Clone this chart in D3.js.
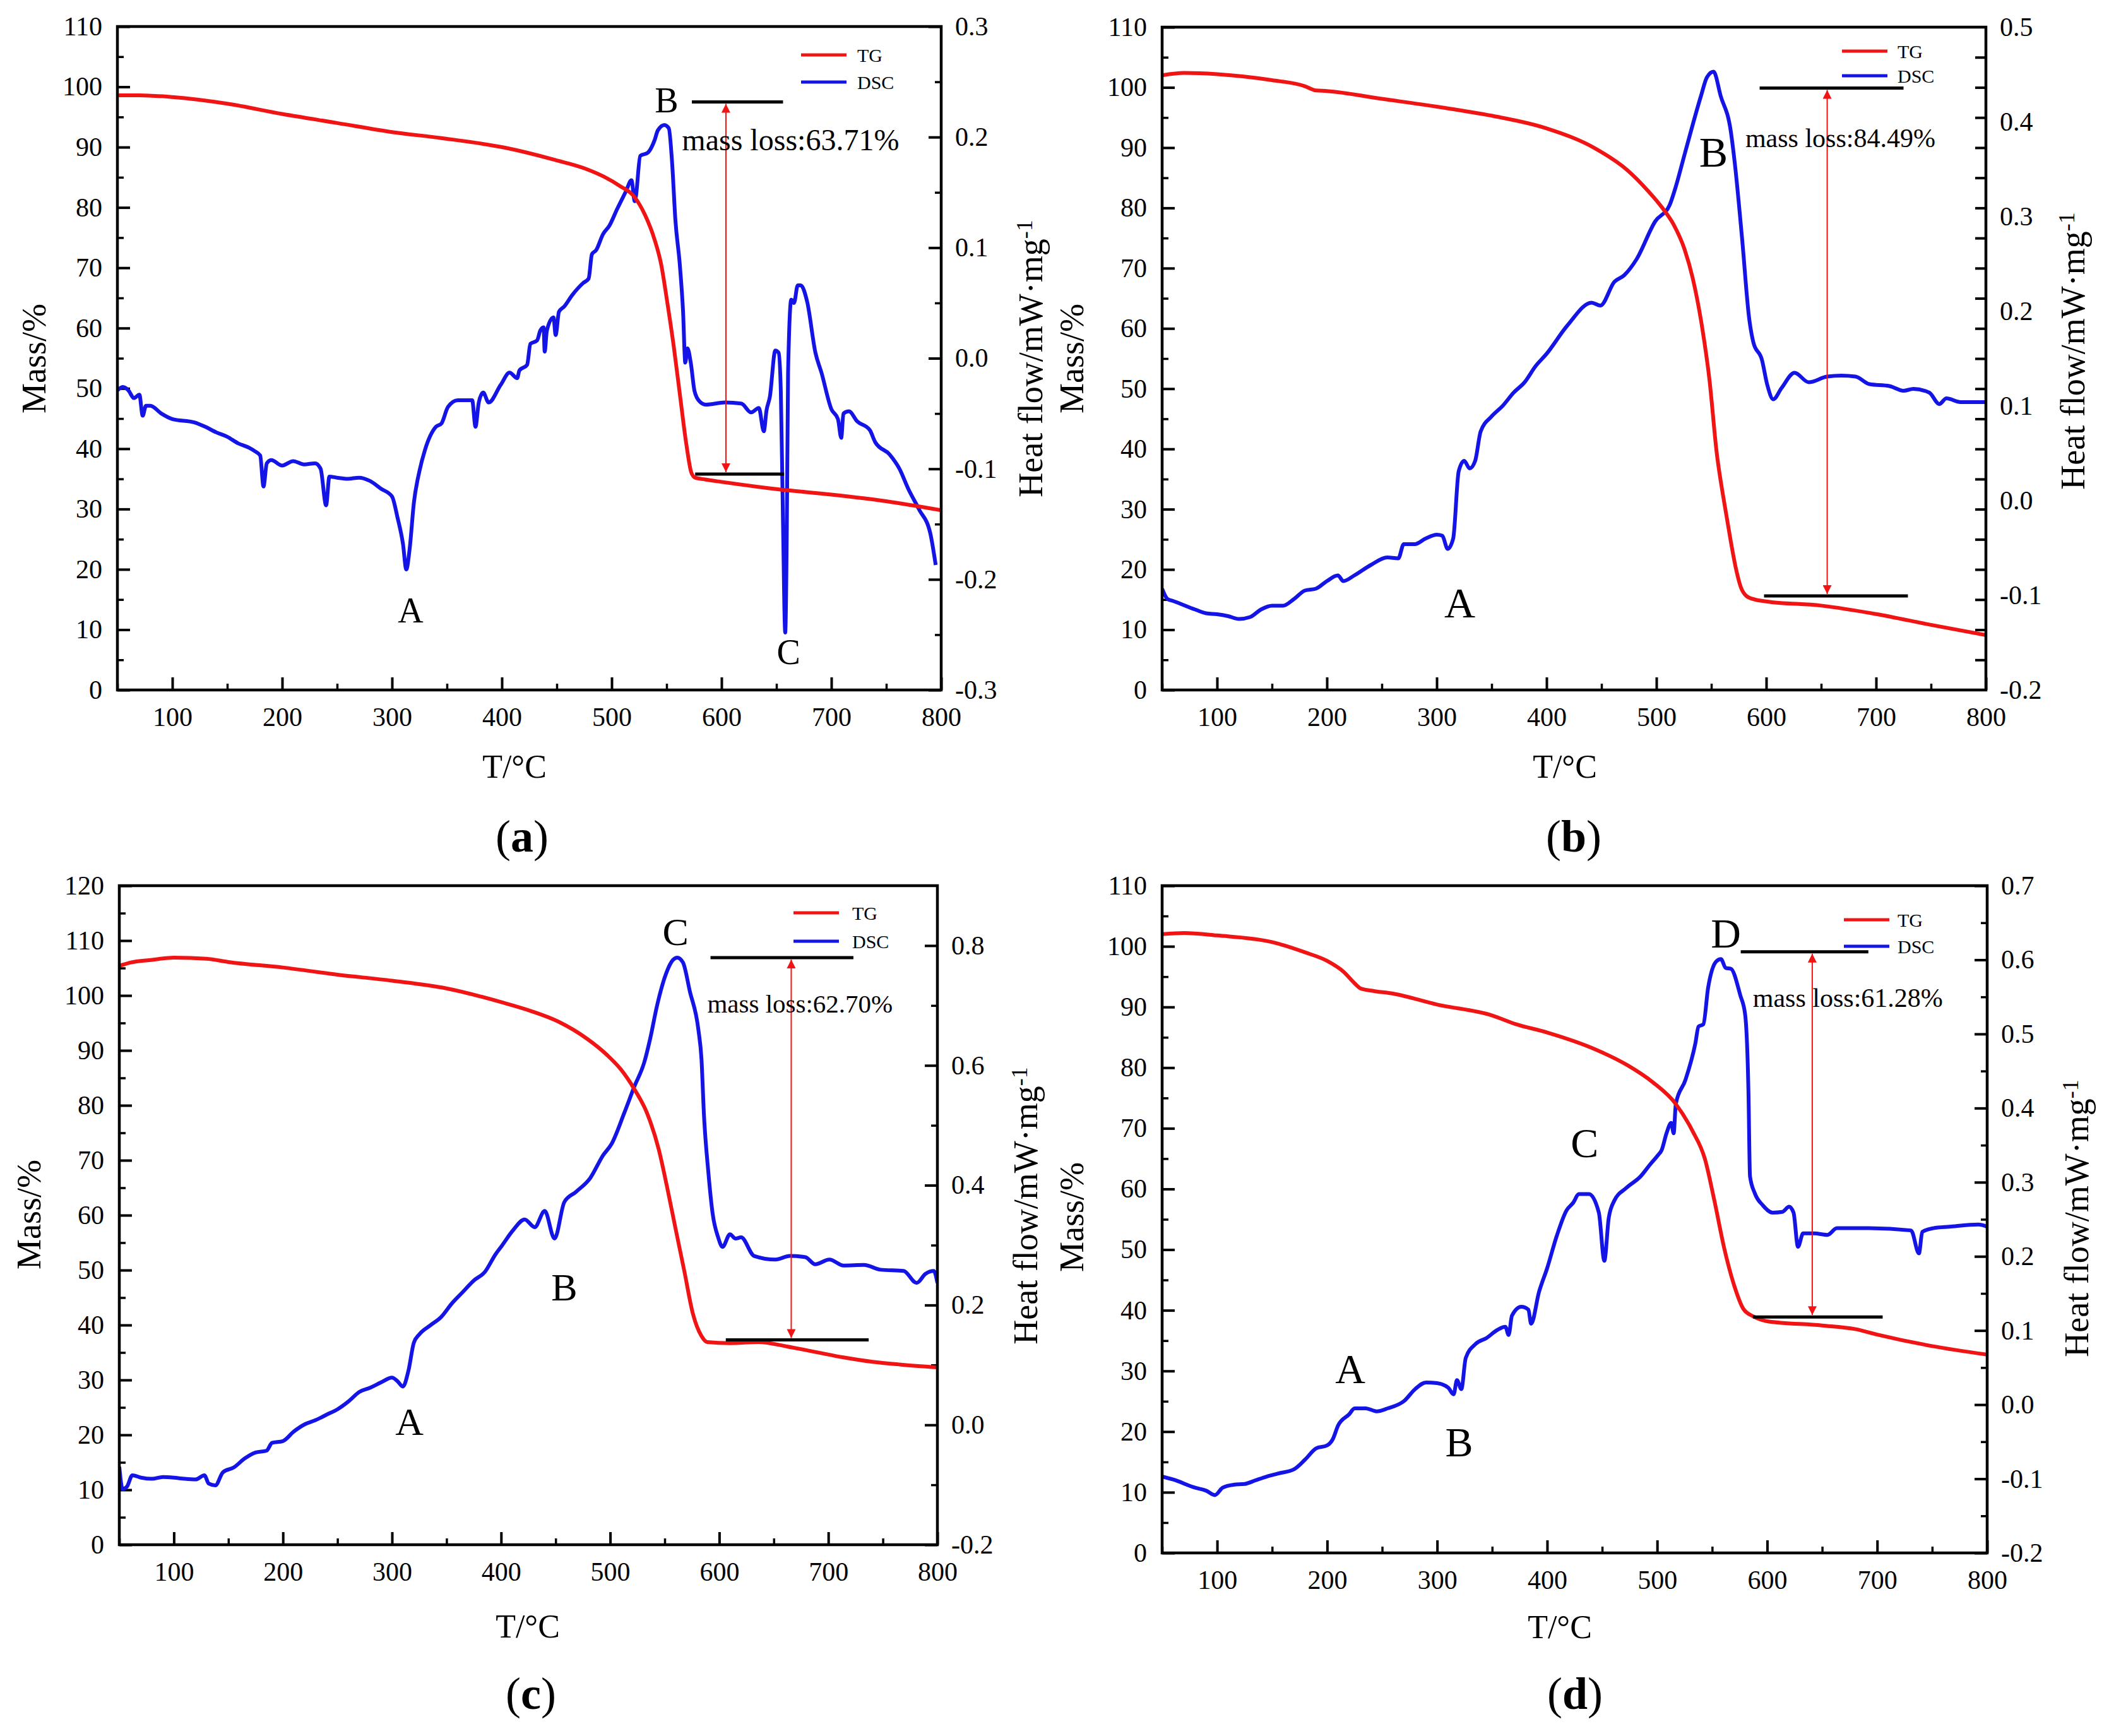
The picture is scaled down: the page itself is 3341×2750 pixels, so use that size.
<!DOCTYPE html>
<html>
<head>
<meta charset="utf-8">
<script src="https://cdn.jsdelivr.net/npm/d3@7"></script>
<style>
  body { margin: 0; background: #fff; }
  text { font-family: "Liberation Serif", "Times New Roman", serif; }
</style>
</head>
<body>
<svg id="fig"></svg>
<script>
// ---- data ----
var tempDomain = [50, 800];
var tempTicks = [100, 200, 300, 400, 500, 600, 700, 800];
var tempMinor = [50, 150, 250, 350, 450, 550, 650, 750];

var tgA = [[50,98.6],[70,98.6],[100,98.3],[150,97.2],[200,95.5],[250,94],[300,92.5],[345,91.5],[403,89.9],[448,87.9],[478,86.3],[493,85.1],[508,83.5],[520,81.9],[530.5,78.7],[539,74.7],[545,70.6],[550.6,64.3],[556.4,57.1],[562.3,48.7],[568,40.7],[572.6,36],[576,35.2],[585,34.9],[600,34.5],[650,33.3],[700,32.4],[750,31.3],[800,29.8]];
var dscA = [[50,-0.029],[55,-0.026],[60,-0.029],[65,-0.036],[70,-0.033],[73,-0.052],[76,-0.043],[80,-0.043],[90,-0.050],[100,-0.055],[120,-0.058],[130,-0.062],[140,-0.067],[150,-0.071],[160,-0.077],[170,-0.081],[175,-0.084],[180,-0.088],[183,-0.116],[186,-0.095],[190,-0.092],[200,-0.097],[210,-0.093],[220,-0.096],[230,-0.095],[235,-0.100],[240,-0.133],[243,-0.107],[250,-0.108],[260,-0.109],[270,-0.108],[280,-0.111],[290,-0.118],[300,-0.125],[305,-0.144],[310,-0.168],[313,-0.191],[316,-0.173],[320,-0.130],[325,-0.102],[330,-0.083],[340,-0.062],[345,-0.059],[351,-0.044],[360,-0.038],[373,-0.038],[376,-0.062],[379,-0.040],[383,-0.031],[388,-0.040],[399,-0.024],[407,-0.013],[414,-0.018],[416,-0.011],[423,-0.006],[426,0.013],[432,0.016],[435,0.025],[438,0.028],[439,0.006],[441,0.025],[447,0.037],[449,0.021],[452,0.042],[457,0.047],[464,0.057],[474,0.068],[479,0.072],[482,0.094],[486,0.098],[492,0.112],[498,0.120],[505,0.135],[513,0.151],[518,0.161],[521,0.142],[522,0.146],[526,0.183],[533,0.186],[539,0.197],[542,0.206],[548,0.211],[552,0.208],[555,0.177],[558,0.125],[562,0.085],[565,0.042],[567,-0.004],[569,0.009],[572,-0.004],[575.5,-0.030],[580,-0.039],[586,-0.042],[603,-0.040],[618,-0.041],[627,-0.049],[634,-0.045],[638.5,-0.066],[641,-0.047],[644,-0.035],[649,0.007],[652,0.005],[654,-0.030],[656,-0.150],[658,-0.248],[659.5,-0.150],[660.6,-0.013],[663.5,0.053],[666,0.050],[669.4,0.066],[672,0.066],[678,0.051],[685.5,0.005],[691,-0.013],[700,-0.046],[706,-0.055],[709,-0.072],[711,-0.050],[716,-0.048],[723.5,-0.057],[735,-0.065],[740,-0.076],[753,-0.087],[762,-0.100],[770,-0.118],[780,-0.137],[790,-0.158],[795,-0.187]];

var tgB = [[50,102],[70,102.4],[100,102.2],[150,101.2],[180,100.2],[190,99.5],[200,99.4],[250,98.1],[300,96.8],[350,95.3],[400,93.2],[444,89.9],[474,86.2],[492,82.9],[505,80.1],[515.5,77.3],[525.7,73.1],[533,68.4],[541.8,60],[548.3,51.5],[554.7,39.7],[562.5,30.3],[567.6,24.8],[572,20.5],[577,17],[582,15.6],[590,15],[600,14.7],[650,14],[700,12.6],[750,10.8],[800,9.1]];
var dscB = [[50,-0.093],[55,-0.104],[60,-0.106],[80,-0.115],[90,-0.119],[100,-0.120],[110,-0.122],[120,-0.125],[130,-0.123],[140,-0.115],[150,-0.111],[160,-0.111],[170,-0.104],[180,-0.095],[190,-0.093],[200,-0.085],[210,-0.079],[215,-0.085],[225,-0.079],[240,-0.068],[255,-0.060],[265,-0.061],[270,-0.046],[280,-0.046],[290,-0.040],[300,-0.036],[305,-0.037],[310,-0.051],[315,-0.040],[320,0.031],[325,0.042],[330,0.034],[335,0.042],[340,0.073],[350,0.089],[360,0.100],[370,0.114],[380,0.125],[390,0.142],[400,0.155],[419,0.185],[441,0.209],[449,0.206],[461.7,0.231],[470.7,0.238],[482,0.255],[499,0.295],[512,0.312],[517,0.329],[526,0.367],[540.5,0.427],[546,0.447],[552,0.453],[558.6,0.427],[567.6,0.391],[571.5,0.355],[578,0.277],[584.4,0.193],[588.3,0.167],[596,0.149],[601,0.122],[606.4,0.107],[614,0.119],[625.8,0.135],[638.7,0.125],[655.5,0.131],[668.4,0.132],[681.3,0.131],[694,0.123],[712,0.121],[725,0.116],[734,0.118],[748.5,0.114],[757.6,0.102],[764,0.108],[777,0.104],[795,0.104],[800,0.104]];

var tgC = [[50,105.4],[60,106],[80,106.5],[100,106.9],[130,106.7],[150,106.1],[200,105.1],[250,103.8],[300,102.7],[350,101.3],[400,98.8],[427,97.2],[453,95.2],[479,92.1],[497,89.2],[510,86.5],[522,83],[534,78.5],[544.5,72],[552,65.3],[560,57.5],[568,49.8],[575.8,42.1],[583.7,38],[589,36.9],[610,36.7],[636,36.9],[662,36.1],[688,35.1],[714,34.1],[740.5,33.3],[766.6,32.8],[800,32.3]];
var dscC = [[50,-0.070],[53,-0.107],[57,-0.103],[62,-0.084],[70,-0.088],[80,-0.090],[90,-0.087],[100,-0.088],[110,-0.090],[120,-0.091],[128,-0.084],[132,-0.098],[138,-0.101],[145,-0.079],[155,-0.071],[165,-0.056],[175,-0.046],[185,-0.043],[190,-0.030],[200,-0.027],[210,-0.011],[220,0.001],[230,0.008],[240,0.017],[250,0.026],[260,0.039],[270,0.055],[280,0.062],[290,0.071],[300,0.079],[305,0.073],[310,0.064],[315,0.090],[320,0.137],[325,0.151],[335,0.166],[345,0.180],[355,0.203],[365,0.222],[375,0.241],[385,0.255],[395,0.285],[400.7,0.299],[411,0.325],[421.6,0.343],[430.8,0.330],[440,0.357],[449,0.311],[458,0.372],[468.7,0.389],[481.7,0.412],[493.5,0.450],[501.3,0.469],[513,0.521],[522,0.564],[531.4,0.606],[536.6,0.644],[543,0.700],[551,0.752],[557.5,0.776],[561.5,0.780],[566.7,0.772],[573,0.724],[581,0.658],[583.7,0.611],[586,0.517],[590,0.422],[594,0.352],[599,0.313],[603,0.297],[609.8,0.318],[615,0.311],[620,0.313],[632,0.282],[651.6,0.276],[664.7,0.282],[679,0.280],[688,0.268],[701,0.276],[714,0.266],[732.6,0.267],[748,0.259],[769,0.257],[781,0.237],[789,0.252],[796.7,0.257],[800,0.237]];

var tgD = [[50,102],[70,102.2],[100,101.8],[150,100.7],[180,99],[200,97.6],[215,95.8],[225,93.9],[230,93.1],[240,92.7],[260,92.2],[300,90.4],[350,88.6],[371,87.2],[400,85.8],[444,83],[473,80.4],[496,77.6],[517,74],[532,69.6],[543.5,64.9],[552,58.1],[561,50.2],[570,44.1],[578.5,40.2],[587.4,39],[600,38.2],[650,37.5],[680,36.9],[700,36],[750,34.1],[800,32.7]];
var dscD = [[50,-0.097],[60,-0.101],[80,-0.112],[90,-0.116],[98,-0.122],[105,-0.112],[115,-0.108],[125,-0.107],[135,-0.102],[145,-0.097],[155,-0.093],[170,-0.087],[180,-0.074],[190,-0.059],[200,-0.055],[205,-0.047],[210,-0.028],[220,-0.013],[225,-0.005],[235,-0.005],[245,-0.009],[255,-0.005],[270,0.005],[280,0.021],[290,0.030],[300,0.029],[310,0.023],[315,0.014],[318,0.033],[322,0.021],[326,0.063],[335,0.082],[345,0.090],[355,0.101],[362,0.105],[365,0.094],[368,0.120],[376.5,0.132],[383,0.128],[385.4,0.109],[392.6,0.152],[400,0.184],[408.6,0.227],[417.6,0.262],[423.5,0.272],[429,0.284],[438,0.284],[447,0.259],[452,0.194],[456,0.252],[461,0.275],[471.7,0.292],[485,0.308],[493.6,0.324],[501,0.337],[504,0.343],[508.5,0.366],[512.8,0.380],[515,0.366],[517,0.406],[525.7,0.438],[534.7,0.487],[537.6,0.510],[542,0.513],[546.3,0.562],[553.8,0.598],[558,0.601],[562.3,0.589],[567,0.588],[575.6,0.552],[580,0.526],[583,0.422],[584.4,0.308],[588.8,0.285],[596,0.269],[605,0.259],[613.7,0.260],[620,0.267],[624,0.259],[628,0.213],[632.7,0.231],[642.8,0.231],[654.8,0.229],[663.4,0.238],[692.6,0.238],[730.8,0.235],[738,0.204],[741,0.233],[751,0.238],[765.6,0.240],[792,0.243],[800,0.240]];

// mass-loss markers: [T start, T end, mass level]
var stepA = [[573, 656, 97.5], [576, 657, 35.8]];
var stepB = [[594, 725, 99.9], [598, 729, 15.6]];
var stepC = [[592, 723, 106.9], [606, 737, 37.3]];
var stepD = [[576, 692, 99.1], [587, 705, 38.9]];
var arrowT = [604, 655.5, 666, 641];
var lossText = ["mass loss:63.71%", "mass loss:84.49%", "mass loss:62.70%", "mass loss:61.28%"];
var lossAt = [[564, 89.5], [581, 90.1], [589, 96.9], [587, 90]];
// peak letters: [letter, T, mass]
var peaksA = [["B", 550, 95.8], ["A", 317, 11.2], ["C", 661, 4.3]];
var peaksB = [["B", 552, 86.8], ["A", 321, 12.1]];
var peaksC = [["C", 560, 109.2], ["B", 458, 44.5], ["A", 316, 20]];
var peaksD = [["D", 562.5, 99.8], ["C", 434, 65.3], ["A", 221, 28], ["B", 320, 15.9]];

var massTicks110 = d3.range(0, 111, 10);
var massMinor110 = d3.range(5, 110, 10);
var massTicks120 = d3.range(0, 121, 10);
var massMinor120 = d3.range(5, 120, 10);
var heatTicksA = [-0.3, -0.2, -0.1, 0, 0.1, 0.2, 0.3];
var heatMinorA = [-0.25, -0.15, -0.05, 0.05, 0.15, 0.25];
var heatTicksB = [-0.2, -0.1, 0, 0.1, 0.2, 0.3, 0.4, 0.5];
var heatTicksC = [-0.2, 0, 0.2, 0.4, 0.6, 0.8];
var heatMinorC = [-0.1, 0.1, 0.3, 0.5, 0.7];
var heatTicksD = [-0.2, -0.1, 0, 0.1, 0.2, 0.3, 0.4, 0.5, 0.6, 0.7];
var heatMinorD = [-0.15, -0.05, 0.05, 0.15, 0.25, 0.35, 0.45, 0.55, 0.65];
// panel (b): right-side tick marks follow the mass grid, labels follow heat flow
var rightMarksB = d3.range(5, 110, 5);

// ---- layout ----
var W = 3341, H = 2750;
var RED = "#f01414", BLUE = "#1414e6";

var panels = [
  { id: "a", box: [186, 1491, 42, 1093], mass: [0, 110], heat: [-0.3, 0.3],
    mt: massTicks110, mm: massMinor110, ht: heatTicksA, hm: heatMinorA,
    tg: tgA, dsc: dscA, steps: stepA, peaks: peaksA, peakSize: 56, lossSize: 48,
    legend: [1083, 45, 88, 1172], leftTitle: [53, 568], rightTitle: [1632, 568],
    xTitle: [815, 1232], tag: [827, 1349] },
  { id: "b", box: [1841, 3146, 43, 1093], mass: [0, 110], heat: [-0.2, 0.5],
    mt: massTicks110, mm: massMinor110, ht: heatTicksB, hm: null, rightMarks: rightMarksB,
    tg: tgB, dsc: dscB, steps: stepB, peaks: peaksB, peakSize: 68, lossSize: 42,
    legend: [1077, 38, 77, 1165], leftTitle: [1697, 568], rightTitle: [3283, 556],
    xTitle: [2479, 1232], tag: [2493, 1349] },
  { id: "c", box: [189, 1485, 1403, 2447], mass: [0, 120], heat: [-0.2, 0.9],
    mt: massTicks120, mm: massMinor120, ht: heatTicksC, hm: heatMinorC,
    tg: tgC, dsc: dscC, steps: stepC, peaks: peaksC, peakSize: 62, lossSize: 41,
    legend: [1068, 43, 88, 1161], leftTitle: [45, 1924], rightTitle: [1624, 1910],
    xTitle: [836, 2594], tag: [841, 2707] },
  { id: "d", box: [1841, 3148, 1403, 2460], mass: [0, 110], heat: [-0.2, 0.7],
    mt: massTicks110, mm: massMinor110, ht: heatTicksD, hm: heatMinorD,
    tg: tgD, dsc: dscD, steps: stepD, peaks: peaksD, peakSize: 66, lossSize: 42,
    legend: [1080, 54, 96, 1165], leftTitle: [1697, 1928], rightTitle: [3289, 1930],
    xTitle: [2471, 2595], tag: [2495, 2707] }
];

var svg = d3.select("#fig").attr("width", W).attr("height", H);
svg.append("rect").attr("width", W).attr("height", H).attr("fill", "#fff");

var defs = svg.append("defs");
defs.append("marker")
    .attr("id", "arrow")
    .attr("viewBox", "0 0 10 10")
    .attr("refX", 10).attr("refY", 5)
    .attr("markerUnits", "userSpaceOnUse")
    .attr("markerWidth", 30).attr("markerHeight", 14)
    .attr("orient", "auto-start-reverse")
  .append("path")
    .attr("d", "M0,0L10,5L0,10z")
    .attr("fill", RED);

function fmtHeat(d) {
  return (Math.abs(d) < 1e-9 ? 0 : d).toFixed(1);
}

function styleAxis(g, fontSize, width) {
  g.select(".domain").remove();
  g.attr("font-family", "Liberation Serif, Times New Roman, serif")
   .attr("font-size", fontSize);
  g.selectAll(".tick line").attr("stroke-width", width);
  g.selectAll(".tick text").attr("fill", "#000");
}

panels.forEach((p, i) => {
  var x0 = p.box[0], x1 = p.box[1], y0 = p.box[2], y1 = p.box[3];
  var g = svg.append("g");

  var x = d3.scaleLinear().domain(tempDomain).range([x0, x1]);
  var y = d3.scaleLinear().domain(p.mass).range([y1, y0]);
  var y2 = d3.scaleLinear().domain(p.heat).range([y1, y0]);

  defs.append("clipPath").attr("id", "clip-" + p.id)
    .append("rect").attr("x", x0).attr("y", y0)
    .attr("width", x1 - x0).attr("height", y1 - y0);

  // minor ticks
  g.append("g").attr("transform", `translate(0,${y1})`)
      .call(d3.axisBottom(x).tickValues(tempMinor).tickSize(-10).tickFormat(""))
      .call(s => styleAxis(s, 42, 3.5));
  g.append("g").attr("transform", `translate(${x0},0)`)
      .call(d3.axisLeft(y).tickValues(p.mm).tickSize(-10).tickFormat(""))
      .call(s => styleAxis(s, 42, 3.5));
  if (p.hm) {
    g.append("g").attr("transform", `translate(${x1},0)`)
        .call(d3.axisRight(y2).tickValues(p.hm).tickSize(-10).tickFormat(""))
        .call(s => styleAxis(s, 42, 3.5));
  }

  // major ticks + labels
  g.append("g").attr("transform", `translate(0,${y1})`)
      .call(d3.axisBottom(x).tickValues(tempTicks).tickSize(-20).tickPadding(27))
      .call(s => styleAxis(s, 42, 4));
  g.append("g").attr("transform", `translate(${x0},0)`)
      .call(d3.axisLeft(y).tickValues(p.mt).tickSize(-20).tickPadding(24))
      .call(s => styleAxis(s, 42, 4));
  if (p.rightMarks) {
    g.append("g").attr("transform", `translate(${x1},0)`)
        .call(d3.axisRight(y).tickValues(p.rightMarks).tickSize(-17).tickFormat(""))
        .call(s => styleAxis(s, 42, 4));
    g.append("g").attr("transform", `translate(${x1},0)`)
        .call(d3.axisRight(y2).tickValues(p.ht).tickSize(0).tickPadding(22).tickFormat(fmtHeat))
        .call(s => styleAxis(s, 42, 0));
  } else {
    g.append("g").attr("transform", `translate(${x1},0)`)
        .call(d3.axisRight(y2).tickValues(p.ht).tickSize(-20).tickPadding(22).tickFormat(fmtHeat))
        .call(s => styleAxis(s, 42, 4));
  }

  // curves
  var plot = g.append("g").attr("clip-path", `url(#clip-${p.id})`);
  plot.append("path")
      .datum(p.dsc)
      .attr("fill", "none")
      .attr("stroke", BLUE)
      .attr("stroke-width", 6)
      .attr("stroke-linejoin", "round")
      .attr("d", d3.line().curve(d3.curveMonotoneX).x(d => x(d[0])).y(d => y2(d[1])));
  plot.append("path")
      .datum(p.tg)
      .attr("fill", "none")
      .attr("stroke", RED)
      .attr("stroke-width", 6)
      .attr("stroke-linejoin", "round")
      .attr("d", d3.line().curve(d3.curveMonotoneX).x(d => x(d[0])).y(d => y(d[1])));

  // frame
  g.append("rect")
      .attr("x", x0).attr("y", y0)
      .attr("width", x1 - x0).attr("height", y1 - y0)
      .attr("fill", "none").attr("stroke", "#000").attr("stroke-width", 4.5);

  // mass loss annotation
  g.selectAll(".step")
    .data(p.steps)
    .enter().append("line")
      .attr("x1", d => x(d[0])).attr("x2", d => x(d[1]))
      .attr("y1", d => y(d[2])).attr("y2", d => y(d[2]))
      .attr("stroke", "#000").attr("stroke-width", 5);
  g.append("line")
      .attr("x1", x(arrowT[i])).attr("x2", x(arrowT[i]))
      .attr("y1", y(p.steps[0][2]) + 3).attr("y2", y(p.steps[1][2]) - 3)
      .attr("stroke", RED).attr("stroke-width", 2)
      .attr("marker-start", "url(#arrow)")
      .attr("marker-end", "url(#arrow)");
  g.append("text")
      .attr("x", x(lossAt[i][0])).attr("y", y(lossAt[i][1]))
      .attr("font-size", p.lossSize)
      .text(lossText[i]);

  g.selectAll(".peak")
    .data(p.peaks)
    .enter().append("text")
      .attr("x", d => x(d[1])).attr("y", d => y(d[2]))
      .attr("text-anchor", "middle")
      .attr("font-size", p.peakSize)
      .text(d => d[0]);

  // legend
  var lg = g.append("g").attr("transform", `translate(${x0},${y0})`);
  [["TG", RED, p.legend[1]], ["DSC", BLUE, p.legend[2]]].forEach(item => {
    lg.append("line")
        .attr("x1", p.legend[0]).attr("x2", p.legend[0] + 72)
        .attr("y1", item[2]).attr("y2", item[2])
        .attr("stroke", item[1]).attr("stroke-width", 5);
    lg.append("text")
        .attr("x", p.legend[3]).attr("y", item[2])
        .attr("dy", "0.35em")
        .attr("font-size", 30)
        .text(item[0]);
  });

  // axis titles
  g.append("text")
      .attr("transform", `translate(${p.leftTitle[0]},${p.leftTitle[1]}) rotate(-90)`)
      .attr("text-anchor", "middle").attr("dy", "0.35em")
      .attr("font-size", 54)
      .text("Mass/%");
  var rt = g.append("text")
      .attr("transform", `translate(${p.rightTitle[0]},${p.rightTitle[1]}) rotate(-90)`)
      .attr("text-anchor", "middle").attr("dy", "0.35em")
      .attr("font-size", 54);
  rt.append("tspan").text("Heat flow/mW\u00b7mg");
  rt.append("tspan").attr("dy", "-0.45em").attr("font-size", 36).text("-1");

  g.append("text")
      .attr("x", p.xTitle[0]).attr("y", p.xTitle[1])
      .attr("text-anchor", "middle")
      .attr("font-size", 52)
      .text("T/\u00b0C");

  var tag = g.append("text")
      .attr("x", p.tag[0]).attr("y", p.tag[1])
      .attr("text-anchor", "middle")
      .attr("font-size", 72);
  tag.append("tspan").text("(");
  tag.append("tspan").attr("font-weight", "bold").text(p.id);
  tag.append("tspan").text(")");
});
</script>
</body>
</html>
